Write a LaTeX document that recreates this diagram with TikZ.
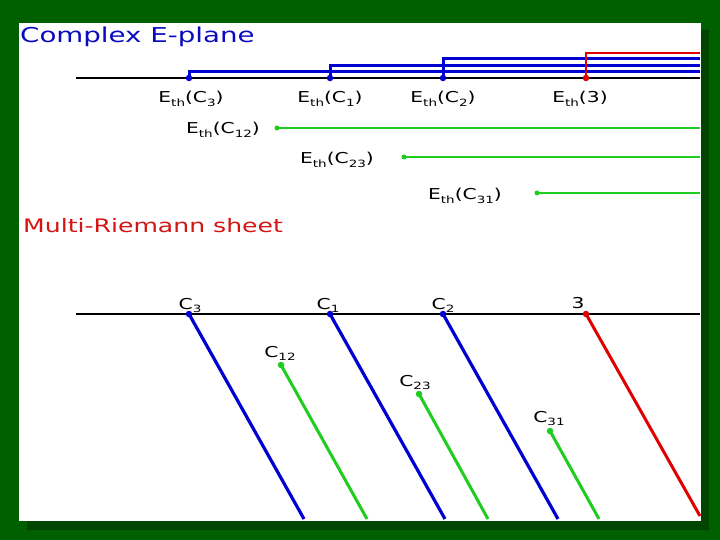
\documentclass[tikz,border=0pt]{standalone}
\usepackage{fontspec}
\setmainfont{DejaVu Sans}
\newfontfamily\wfont[FakeStretch=1.35]{DejaVu Sans}
\newcommand\sbs[1]{\raisebox{-0.45ex}{\fontsize{10}{10}\selectfont #1}}
\newcommand\Eth[1]{E\sbs{th}(#1)}
\definecolor{bggreen}{RGB}{0,96,0}
\definecolor{shgreen}{RGB}{0,70,0}
\definecolor{cblue}{RGB}{0,0,210}
\definecolor{cred}{RGB}{225,0,0}
\definecolor{cgreen}{RGB}{30,205,30}
\definecolor{tblue}{RGB}{10,10,190}
\definecolor{tred}{RGB}{215,20,20}
\begin{document}
\begin{tikzpicture}[x=1pt,y=-1pt,
  lab/.style={font=\wfont\fontsize{15}{17}\selectfont, inner sep=0pt, anchor=base},
  axisline/.style={line width=2pt, black},
  bl/.style={line width=3pt, cblue},
  rd/.style={line width=2.4pt, cred},
  gr/.style={line width=2.6pt, cgreen},
  dot/.style={circle, inner sep=0pt, minimum size=6.5pt}
]
\useasboundingbox (0,0) rectangle (720,540);
\fill[bggreen] (0,0) rectangle (720,540);
\fill[shgreen] (27,30) rectangle (709,530);
\fill[white] (19,23) rectangle (701,521);

% titles
\node[font=\wfont\fontsize{20.5}{22}\selectfont, text=tblue, anchor=base west, inner sep=0pt] (title) at (20,43) {Complex E-plane};
\node[font=\wfont\fontsize{18.6}{20}\selectfont, text=tred, anchor=base west, inner sep=0pt] (multi) at (23,233) {Multi-Riemann sheet};

% ---------- complex E-plane ----------
\coordinate (a1) at (76,78);
\coordinate (a2) at (700,78);
\draw[axisline] (a1) -- (a2);
\node[dot, fill=cblue] (p3) at (189,78) {};
\node[dot, fill=cblue] (p1) at (330,78) {};
\node[dot, fill=cblue] (p2) at (443,78) {};
\node[dot, fill=cred] (pt) at (586,78) {};
\coordinate (e3) at (700,72);
\coordinate (e1) at (700,66);
\coordinate (e2) at (700,59);
\coordinate (et) at (700,53);
\draw[bl] (p3.center) |- (e3);
\draw[bl] (p1.center) |- (e1);
\draw[bl] (p2.center) |- (e2);
\draw[rd] (pt.center) |- (et);

\node[lab] (l3) at (191,103) {\Eth{C\sbs{3}}};
\node[lab] (l1) at (330,103) {\Eth{C\sbs{1}}};
\node[lab] (l2) at (443,103) {\Eth{C\sbs{2}}};
\node[lab] (lt) at (580,103) {\Eth{3}};

\node[dot, fill=cgreen, minimum size=5pt] (g12) at (277,128) {};
\node[dot, fill=cgreen, minimum size=5pt] (g23) at (404,157) {};
\node[dot, fill=cgreen, minimum size=5pt] (g31) at (537,193) {};
\coordinate (h12) at (700,128);
\coordinate (h23) at (700,157);
\coordinate (h31) at (700,193);
\draw[gr] (g12.center) -- (h12);
\draw[gr] (g23.center) -- (h23);
\draw[gr] (g31.center) -- (h31);
\node[lab] (lg12) at (223,134) {\Eth{C\sbs{12}}};
\node[lab] (lg23) at (337,164) {\Eth{C\sbs{23}}};
\node[lab] (lg31) at (465,200) {\Eth{C\sbs{31}}};

% ---------- multi-Riemann sheet ----------
\coordinate (b1) at (76,314);
\coordinate (b2) at (700,314);
\draw[axisline] (b1) -- (b2);
\coordinate (f3) at (304,519);
\coordinate (f1) at (445,519);
\coordinate (f2) at (558,519);
\coordinate (ft) at (700,516);
\coordinate (k12) at (367,519);
\coordinate (k23) at (488,519);
\coordinate (k31) at (599,519);
\node[dot, fill=cblue] (q3) at (189,314) {};
\node[dot, fill=cblue] (q1) at (330,314) {};
\node[dot, fill=cblue] (q2) at (443,314) {};
\node[dot, fill=cred] (qt) at (586,314) {};
\node[dot, fill=cgreen] (c12) at (281,365) {};
\node[dot, fill=cgreen] (c23) at (419,394) {};
\node[dot, fill=cgreen] (c31) at (550,431) {};
\draw[bl, line width=3.2pt] (q3.center) -- (f3);
\draw[bl, line width=3.2pt] (q1.center) -- (f1);
\draw[bl, line width=3.2pt] (q2.center) -- (f2);
\draw[rd, line width=3pt] (qt.center) -- (ft);
\draw[gr, line width=3pt] (c12.center) -- (k12);
\draw[gr, line width=3pt] (c23.center) -- (k23);
\draw[gr, line width=3pt] (c31.center) -- (k31);

\node[lab] (m3) at (190,309) {C\sbs{3}};
\node[lab] (m1) at (328,309) {C\sbs{1}};
\node[lab] (m2) at (443,309) {C\sbs{2}};
\node[lab] (mt) at (578,308) {3};
\node[lab] (m12) at (280,357) {C\sbs{12}};
\node[lab] (m23) at (415,386) {C\sbs{23}};
\node[lab] (m31) at (549,422) {C\sbs{31}};
\end{tikzpicture}
\end{document}
